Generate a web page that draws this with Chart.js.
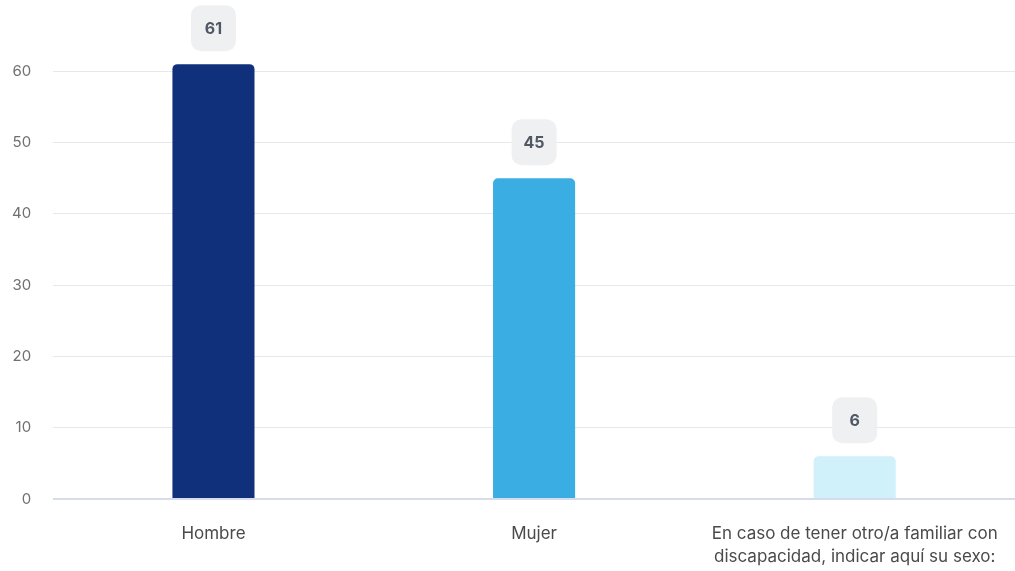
<!DOCTYPE html>
<html>
<head>
<meta charset="utf-8">
<script src="https://cdn.jsdelivr.net/npm/chart.js@4"></script>
<style>
  html, body { margin: 0; padding: 0; background: #fff; }
  #wrap { width: 1015px; height: 571px; position: relative; }
</style>
</head>
<body>
<div id="wrap"><canvas id="sexChart"></canvas></div>
<script>
// Respuestas por sexo
const categories = [
    'Hombre',
    'Mujer',
    ['En caso de tener otro/a familiar con', 'discapacidad, indicar aquí su sexo:']
];
const counts = [61, 45, 6];
const barColors = ['#10307b', '#3aaee3', '#d0f0fa'];
const yTicks = [0, 10, 20, 30, 40, 50, 60, 70];
const yMax = 70;

// Rounded grey badge with the value above each bar
const valueBadges = {
    id: 'valueBadges',
    afterDatasetsDraw(chart) {
        const ctx = chart.ctx;
        const meta = chart.getDatasetMeta(0);
        const w = 45, h = 46, r = 10;
        ctx.save();
        meta.data.forEach((bar, i) => {
            const cx = bar.x;
            const cy = bar.y - 36;
            ctx.fillStyle = '#eff0f1';
            ctx.beginPath();
            ctx.roundRect(cx - w / 2, cy - h / 2, w, h, r);
            ctx.fill();
            ctx.fillStyle = '#505765';
            ctx.font = 'bold 16px Inter';
            ctx.textAlign = 'center';
            ctx.textBaseline = 'middle';
            ctx.fillText(String(counts[i]), cx, cy + 1);
        });
        ctx.restore();
    }
};

new Chart(document.getElementById('sexChart'), {
    type: 'bar',
    data: {
        labels: categories,
        datasets: [{
            data: counts,
            backgroundColor: barColors,
            borderRadius: { topLeft: 5, topRight: 5 },
            borderSkipped: 'bottom',
            categoryPercentage: 1,
            barPercentage: 0.256
        }]
    },
    options: {
        responsive: true,
        maintainAspectRatio: false,
        animation: false,
        layout: { padding: { top: 0, right: 0, bottom: 0, left: 12 } },
        plugins: {
            legend: { display: false },
            tooltip: { enabled: false }
        },
        scales: {
            x: {
                grid: { display: false, drawTicks: false },
                border: { display: false },
                ticks: {
                    color: '#4a4a4a',
                    font: { family: 'Inter', size: 17, lineHeight: 1.35 },
                    padding: 23,
                    maxRotation: 0
                },
                // keep the axis compact and let the long label run to the edge
                afterFit(scale) {
                    scale.height = 72;
                    scale.paddingRight = 0;
                }
            },
            y: {
                min: 0,
                max: yMax,
                afterBuildTicks(axis) {
                    axis.ticks = yTicks.map(v => ({ value: v }));
                },
                afterFit(scale) {
                    scale.paddingTop = 0;
                },
                border: { display: false },
                grid: {
                    drawTicks: true,
                    tickLength: 22,
                    tickColor: 'rgba(0,0,0,0)',
                    color: c => {
                        if (!c.tick) return '#e6e8ec';
                        if (c.tick.value === yMax) return 'rgba(0,0,0,0)';
                        return c.tick.value === 0 ? '#d6dceb' : '#e6e8ec';
                    },
                    lineWidth: c => c.tick && c.tick.value === 0 ? 2 : 1
                },
                ticks: {
                    color: '#707070',
                    font: { family: 'Inter', size: 15 },
                    padding: 0,
                    // top tick has no label
                    callback: v => v === yMax ? null : String(v)
                }
            }
        }
    },
    plugins: [valueBadges]
});
</script>
</body>
</html>
